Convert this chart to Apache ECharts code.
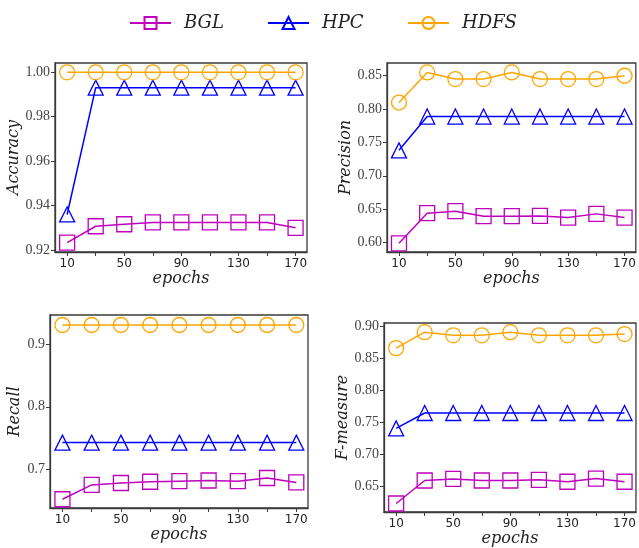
<!DOCTYPE html>
<html>
<head>
<meta charset="utf-8">
<script src="https://cdn.jsdelivr.net/npm/echarts@6/dist/echarts.min.js"></script>
<style>html,body{margin:0;padding:0;background:#fff}#c{width:639px;height:548px}</style>
</head>
<body>
<div id="c"></div>
<script>
const epochs = [10, 30, 50, 70, 90, 110, 130, 150, 170];
const xTicks = [10, 30, 50, 70, 90, 110, 130, 150, 170];
const xLabels = [10, 50, 90, 130, 170];

const accBGL  = [0.9233, 0.9307, 0.9316, 0.9324, 0.9324, 0.9324, 0.9324, 0.9324, 0.9300];
const accHPC  = [0.9360, 0.9931, 0.9931, 0.9931, 0.9931, 0.9931, 0.9931, 0.9931, 0.9931];
const accHDFS = [1.0, 1.0, 1.0, 1.0, 1.0, 1.0, 1.0, 1.0, 1.0];
const accTicks = [0.92, 0.94, 0.96, 0.98, 1.00];

const preBGL  = [0.599, 0.644, 0.647, 0.6395, 0.6395, 0.640, 0.6375, 0.643, 0.6375];
const preHPC  = [0.738, 0.7885, 0.7885, 0.7885, 0.7885, 0.7885, 0.7885, 0.7885, 0.7885];
const preHDFS = [0.8095, 0.8545, 0.8446, 0.8446, 0.8545, 0.8446, 0.8446, 0.8446, 0.8495];
const preTicks = [0.60, 0.65, 0.70, 0.75, 0.80, 0.85];

const recBGL  = [0.652, 0.675, 0.678, 0.680, 0.681, 0.682, 0.681, 0.686, 0.679];
const recHPC  = [0.7427, 0.7427, 0.7427, 0.7427, 0.7427, 0.7427, 0.7427, 0.7427, 0.7427];
const recHDFS = [0.931, 0.931, 0.931, 0.931, 0.931, 0.931, 0.931, 0.931, 0.931];
const recTicks = [0.7, 0.8, 0.9];

const fmBGL  = [0.623, 0.659, 0.6615, 0.659, 0.659, 0.660, 0.657, 0.662, 0.657];
const fmHPC  = [0.7405, 0.7645, 0.7645, 0.7645, 0.7645, 0.7645, 0.7645, 0.7645, 0.7645];
const fmHDFS = [0.866, 0.891, 0.886, 0.886, 0.891, 0.886, 0.886, 0.886, 0.888];
const fmTicks = [0.65, 0.70, 0.75, 0.80, 0.85, 0.90];

const names = ['BGL', 'HPC', 'HDFS'];
const colors = ['#bf00bf', '#0000ff', '#ffa500'];
const symbols = ['rect', 'triangle', 'circle'];

const panels = [
  {name: 'Accuracy', data: [accBGL, accHPC, accHDFS], ticks: accTicks, dec: 2, min: 0.9191, max: 1.0042,
   grid: {left: 55, top: 63, width: 252, height: 189}, gap: 32},
  {name: 'Precision', data: [preBGL, preHPC, preHDFS], ticks: preTicks, dec: 2, min: 0.586, max: 0.8686,
   grid: {left: 387, top: 63, width: 251, height: 189}, gap: 32},
  {name: 'Recall', data: [recBGL, recHPC, recHDFS], ticks: recTicks, dec: 1, min: 0.638, max: 0.947,
   grid: {left: 50, top: 315, width: 258, height: 193}, gap: 27},
  {name: 'F-measure', data: [fmBGL, fmHPC, fmHDFS], ticks: fmTicks, dec: 2, min: 0.6097, max: 0.9053,
   grid: {left: 384, top: 323, width: 254, height: 189}, gap: 29}
];

const grids = [], xAxes = [], yAxes = [], series = [];
panels.forEach((p, i) => {
  grids.push(Object.assign({show: true, borderColor: '#3a3a3a', borderWidth: 1.3, containLabel: false}, p.grid));
  xAxes.push({
    type: 'value', gridIndex: i, min: 1.5, max: 178,
    name: 'epochs', nameLocation: 'middle', nameGap: 18,
    nameTextStyle: {fontFamily: 'DejaVu Serif', fontStyle: 'italic', fontSize: 16, color: '#222'},
    axisLine: {show: true, lineStyle: {color: '#3a3a3a', width: 1.3}},
    axisTick: {show: true, length: 4, inside: false, customValues: xTicks, lineStyle: {color: '#3a3a3a'}},
    axisLabel: {customValues: xLabels, margin: 6, fontFamily: 'DejaVu Sans', fontSize: 12, color: '#222'},
    splitLine: {show: false}
  });
  yAxes.push({
    type: 'value', gridIndex: i, min: p.min, max: p.max,
    name: p.name, nameLocation: 'middle', nameGap: p.gap,
    nameTextStyle: {fontFamily: 'DejaVu Serif', fontStyle: 'italic', fontSize: 16, color: '#222'},
    axisLine: {show: true, lineStyle: {color: '#3a3a3a', width: 1.3}},
    axisTick: {show: true, length: 4, customValues: p.ticks, lineStyle: {color: '#3a3a3a'}},
    axisLabel: {customValues: p.ticks, margin: 5, fontFamily: 'Liberation Serif', fontSize: 14, color: '#444',
      formatter: v => v.toFixed(p.dec)},
    splitLine: {show: false}
  });
  p.data.forEach((vals, k) => {
    series.push({
      name: names[k], type: 'line', xAxisIndex: i, yAxisIndex: i,
      data: epochs.map((e, j) => [e, vals[j]]),
      symbol: symbols[k], symbolSize: 15,
      lineStyle: {color: colors[k], width: 1.5},
      itemStyle: {color: 'rgba(0,0,0,0)', borderColor: colors[k], borderWidth: 1.3},
      z: 2 + k, animation: false
    });
  });
});

const legendLeft = [124, 262, 402];
const legends = names.map((n, k) => ({
  data: [n], left: legendLeft[k], top: 9, itemWidth: 41, itemHeight: 15, itemGap: 10,
  textStyle: {fontFamily: 'DejaVu Serif', fontStyle: 'italic', fontSize: 18, color: '#222', padding: [0, 0, 0, 8]}
}));

const chart = echarts.init(document.getElementById('c'), null, {renderer: 'canvas'});
chart.setOption({
  animation: false,
  backgroundColor: '#fff',
  legend: legends,
  grid: grids, xAxis: xAxes, yAxis: yAxes, series: series
});
</script>
</body>
</html>
